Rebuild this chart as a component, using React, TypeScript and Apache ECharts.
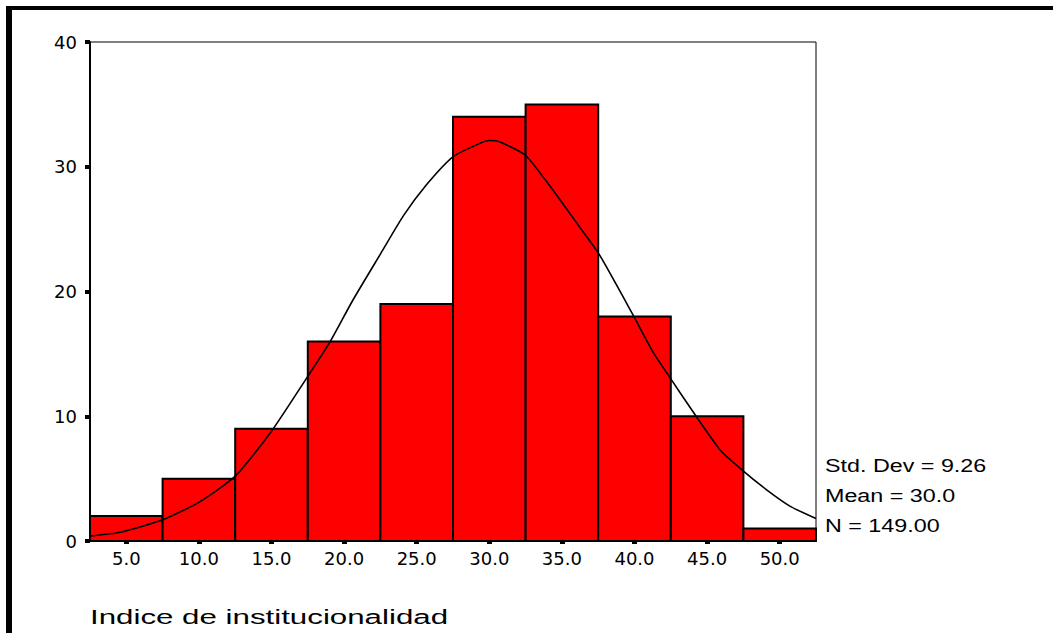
import React, { useEffect, useRef } from "react";
import * as echarts from "echarts";

const binCenters = [5, 10, 15, 20, 25, 30, 35, 40, 45, 50];
const counts = [2, 5, 9, 16, 19, 34, 35, 18, 10, 1];
const binWidth = 5;
const xTicks = [5, 10, 15, 20, 25, 30, 35, 40, 45, 50];
const curveX = [2.5, 4.6, 7.5, 10, 12.5, 15, 17.5, 19, 20.6, 22.5, 24.1, 25.7, 27.5, 29.4, 30, 30.7, 32.5, 34.4, 36.2, 37.5, 38.3, 39.2, 40, 41.3, 42.5, 44.3, 45.9, 47.4, 49.1, 50.7, 52.5];
const curveY = [0.4, 0.7, 1.7, 3.1, 5.2, 8.8, 13.2, 15.9, 19.3, 23.0, 26.1, 28.6, 30.8, 31.9, 32.1, 32.0, 30.9, 28.1, 25.2, 23.1, 21.5, 19.6, 17.9, 15.1, 13.0, 9.9, 7.3, 5.7, 4.1, 2.8, 1.8];
const statLines = ["Std. Dev = 9.26", "Mean = 30.0", "N = 149.00"];
const xTitle = "Indice de institucionalidad";

export default function App() {
  const ref = useRef<HTMLDivElement>(null);
  useEffect(() => {
    if (!ref.current) return;
    const chart = echarts.init(ref.current, undefined, { renderer: "svg" });
    const barData = binCenters.map((c, i) => [c - binWidth / 2, c + binWidth / 2, counts[i]]);
    const curveData = curveX.map((x, i) => [x, curveY[i]]);
    const labelFont = "DejaVu Sans";
    chart.setOption({
      animation: false,
      backgroundColor: "#ffffff",
      grid: {
        left: 90,
        top: 42,
        width: 726,
        height: 499,
        show: true,
        borderColor: "#000",
        borderWidth: 1,
        backgroundColor: "transparent",
      },
      xAxis: {
        type: "value",
        min: 2.5,
        max: 52.5,
        splitLine: { show: false },
        axisLine: { show: true, lineStyle: { color: "#000", width: 2 } },
        axisTick: {
          show: true,
          length: 3,
          customValues: xTicks,
          lineStyle: { color: "#000", width: 5 },
        },
        axisLabel: {
          customValues: xTicks,
          formatter: (v: number) => v.toFixed(1),
          color: "#000",
          fontFamily: labelFont,
          fontSize: 18,
          margin: 8,
        },
      },
      yAxis: {
        type: "value",
        min: 0,
        max: 40,
        interval: 10,
        splitLine: { show: false },
        axisLine: { show: true, lineStyle: { color: "#000", width: 2 } },
        axisTick: { show: true, length: 5, lineStyle: { color: "#000", width: 4 } },
        axisLabel: {
          color: "#000",
          fontFamily: labelFont,
          fontSize: 18,
          margin: 13,
        },
      },
      graphic: [
        { type: "rect", shape: { x: 6, y: 6, width: 1047, height: 4 }, style: { fill: "#000" } },
        { type: "rect", shape: { x: 6, y: 6, width: 6, height: 627 }, style: { fill: "#000" } },
        ...statLines.map((t, i) => ({
          type: "text",
          x: 825,
          y: 456 + i * 30,
          scaleX: 1.26,
          style: {
            text: t,
            fill: "#000",
            font: "18.5px 'Liberation Sans'",
            verticalAlign: "top",
          },
        })),
        {
          type: "text",
          x: 90,
          y: 606,
          scaleX: 1.49,
          style: {
            text: xTitle,
            fill: "#000",
            font: "21px 'Liberation Sans'",
            verticalAlign: "top",
          },
        },
      ],
      series: [
        {
          type: "custom",
          data: barData,
          z: 2,
          renderItem: (params: any, api: any) => {
            const p0 = api.coord([api.value(0), api.value(2)]);
            const p1 = api.coord([api.value(1), 0]);
            return {
              type: "rect",
              shape: { x: p0[0], y: p0[1], width: p1[0] - p0[0], height: p1[1] - p0[1] },
              style: { fill: "#ff0000", stroke: "#000", lineWidth: 2 },
            };
          },
        },
        {
          type: "line",
          data: curveData,
          z: 3,
          smooth: 0.2,
          showSymbol: false,
          symbol: "none",
          lineStyle: { color: "#000", width: 1.6 },
        },
      ],
    });
    return () => chart.dispose();
  }, []);
  return (
    <div
      ref={ref}
      style={{ position: "absolute", left: 0, top: 0, width: 1053, height: 633 }}
    />
  );
}
